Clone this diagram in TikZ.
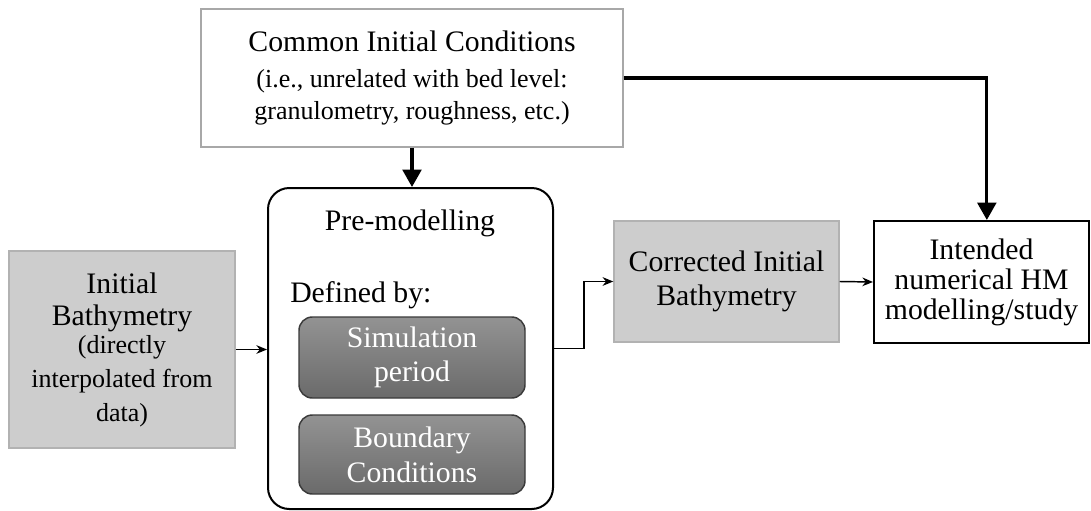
\documentclass[tikz,border=0pt]{standalone}
\usepackage{fontspec}
\setmainfont{Liberation Serif}
\usetikzlibrary{arrows.meta}
\newcommand\mainsz{\rmfamily\fontsize{22.3}{26}\selectfont}
\newcommand\subsz{\rmfamily\fontsize{19.5}{23}\selectfont}
\definecolor{lightbox}{HTML}{CDCDCD}
\definecolor{lightedge}{HTML}{B2B2B2}
\definecolor{darktop}{HTML}{939393}
\definecolor{darkbot}{HTML}{6A6A6A}
\definecolor{darkedge}{HTML}{3A3A3A}
\definecolor{paleedge}{HTML}{A8A8A8}
\begin{document}
\begin{tikzpicture}[x=0.75pt,y=-0.75pt,
  every node/.style={font=\mainsz, align=center, inner sep=0pt},
  plainbox/.style={draw=paleedge, line width=1.1pt, fill=white},
  greybox/.style={draw=lightedge, line width=1.1pt, fill=lightbox},
  outlinebox/.style={draw=black, line width=1.5pt, fill=white},
  groupbox/.style={draw=black, line width=1.5pt, rounded corners=16pt, fill=white},
  innerbox/.style={draw=darkedge, line width=1.1pt, rounded corners=10pt,
    top color=darktop, bottom color=darkbot, text=white},
  thinarrow/.style={draw=black, line width=1.1pt, -{Stealth[length=8pt,width=6.5pt]}},
  thickarrow/.style={draw=black, line width=2.4pt, -{Triangle[length=13pt,width=14pt]}}]

\useasboundingbox (0,0) rectangle (1091,510);

% boxes
\node[plainbox, minimum width=316.5pt, minimum height=103.5pt] (common) at (412,78)
  {Common Initial Conditions\\[1pt]
   \subsz (i.e., unrelated with bed level:\\[-2.5pt] \subsz granulometry, roughness, etc.)};

\node[groupbox, minimum width=213.75pt, minimum height=240.75pt] (pre) at (410.5,348.5) {};
\node[anchor=base] (pretitle) at (410,230) {Pre-modelling};
\node[anchor=base west] (defby) at (290,302) {Defined by:};
\node[innerbox, minimum width=169.5pt, minimum height=60.75pt] (sim) at (412,357.5)
  {\raisebox{-2pt}{Simulation}\\\raisebox{-2pt}{period}};
\node[innerbox, minimum width=169.5pt, minimum height=59.25pt] (bound) at (412,454.5)
  {\raisebox{-1pt}{Boundary}\\\raisebox{-1pt}{Conditions}};

\node[greybox, minimum width=169.5pt, minimum height=147.75pt] (init) at (122,349.5)
  {Initial\\[-2pt] Bathymetry\\[-5pt] \subsz (directly\\[0pt] \subsz interpolated from\\[-1pt] \subsz data)};

\node[greybox, minimum width=168.75pt, minimum height=90.75pt] (corr) at (726.5,281.5)
  {Corrected Initial\\Bathymetry};

\node[outlinebox, minimum width=161.25pt, minimum height=91.5pt] (study) at (981.5,282)
  {Intended\\[-3.5pt] numerical HM\\[-3.5pt] modelling/study};

% connectors
\draw[thickarrow] (common.south) -- (common.south |- pre.north);
\draw[thickarrow] (common.east) -| ([xshift=4pt]study.north);
\draw[thinarrow] (init.east) -- (init.east -| pre.west);
\draw[thinarrow] (pre.east) -- ++(30,0) |- (corr.west);
\draw[thinarrow] (corr.east) -- (study.west);
\end{tikzpicture}
\end{document}
